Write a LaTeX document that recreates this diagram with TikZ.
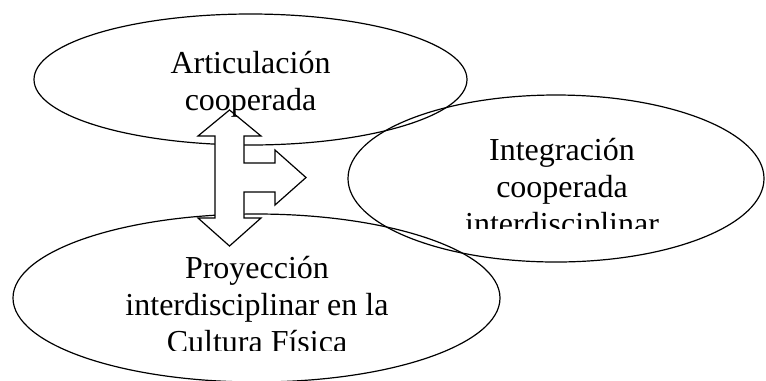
\documentclass[tikz,border=0pt]{standalone}
\usepackage{fontspec}
\setmainfont{Liberation Serif}
\usetikzlibrary{shapes.geometric}

\begin{document}
\begin{tikzpicture}
  [x=0.75pt,y=-0.75pt,
  bubble/.style={ellipse,draw,line width=0.9pt,inner sep=0pt},
  bubble text/.style={align=center,inner sep=0pt,font=\fontsize{24}{27.75}\selectfont},
  block arrow/.style={draw,fill=white,line width=0.9pt,line join=miter}]
  \useasboundingbox (0,0) rectangle (766,380);
  % the three ellipses
  \node[bubble,minimum width=324.75pt,minimum height=98.25pt] (articulacion) at (250.5,79.5) {};
  \node[bubble,minimum width=312pt,minimum height=125.25pt] (integracion) at (556,178.5) {};
  \node[bubble,minimum width=365.25pt,minimum height=126pt] (proyeccion) at (256.5,298) {};
  % three-way block arrow
  \draw[block arrow] (229.5,110) -- (261,136) -- (244,136) -- (244,163) -- (275,163)
    -- (275,150) -- (306,177.5) -- (275,205) -- (275,192) -- (244,192) -- (244,218)
    -- (261,218) -- (229.5,246) -- (198,218) -- (215,218) -- (215,136) -- (198,136) -- cycle;
  % texts, the lower ones cut off by their boxes
  \node[bubble text] (articulacion text) at (250.5,84) {Articulación\\cooperada};
  \begin{scope}
    \clip (340,90) rectangle (766,228);
    \node[bubble text] (integracion text) at (562,189.6) {Integración\\cooperada\\interdisciplinar};
  \end{scope}
  \begin{scope}
    \clip (0,200) rectangle (520,350);
    \node[bubble text] (proyeccion text) at (257,304.2) {Proyección\\interdisciplinar en la\\Cultura Física};
  \end{scope}
\end{tikzpicture}
\end{document}
